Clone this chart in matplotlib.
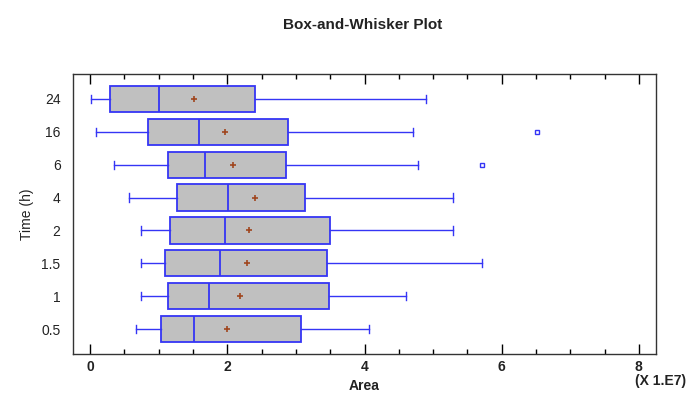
import matplotlib
matplotlib.use("Agg")
import matplotlib.pyplot as plt
from matplotlib.ticker import MultipleLocator
import numpy as np

plt.rcParams['font.family'] = ['Liberation Sans', 'DejaVu Sans']

# Data (units of 1e7), bottom-to-top order
categories = ["0.5", "1", "1.5", "2", "4", "6", "16", "24"]
whislo = [0.67, 0.74, 0.74, 0.74, 0.57, 0.35, 0.087, 0.015]
q1 = [1.04, 1.13, 1.09, 1.17, 1.26, 1.13, 0.84, 0.29]
median = [1.51, 1.73, 1.90, 1.96, 2.01, 1.68, 1.58, 1.00]
mean = [2.00, 2.19, 2.29, 2.32, 2.40, 2.09, 1.97, 1.51]
q3 = [3.07, 3.48, 3.46, 3.50, 3.13, 2.86, 2.88, 2.41]
whishi = [4.07, 4.60, 5.71, 5.29, 5.29, 4.78, 4.71, 4.89]
fliers = [[], [], [], [], [], [5.71], [6.52], []]
xticks = [0, 2, 4, 6, 8]

blue = "#3535F5"
stats = []
for i, c in enumerate(categories):
    stats.append(dict(label=c, whislo=whislo[i], q1=q1[i], med=median[i],
                      mean=mean[i], q3=q3[i], whishi=whishi[i],
                      fliers=fliers[i]))

fig = plt.figure(figsize=(6.88, 3.93), dpi=100)
ax = fig.add_axes([73/688, 1-354/393, (656-73)/688, (354-74)/393])

ax.bxp(stats, positions=np.arange(len(categories)), vert=False, widths=0.8,
       patch_artist=True, showmeans=True, showfliers=True,
       boxprops=dict(facecolor="#C0C0C0", edgecolor=blue, linewidth=1.3),
       medianprops=dict(color=blue, linewidth=1.3),
       whiskerprops=dict(color=blue, linewidth=1.0),
       capprops=dict(color=blue, linewidth=1.0),
       capwidths=0.25,
       meanprops=dict(marker="+", markeredgecolor="#A0461E", markersize=4,
                      markeredgewidth=1.2),
       flierprops=dict(marker="s", markerfacecolor="none", markeredgecolor=blue,
                       markersize=3.5, markeredgewidth=1.0))

ax.set_xlim(-0.25, 8.25)
ax.set_ylim(-0.76, 7.76)
ax.set_yticks(np.arange(len(categories)))
ax.set_yticklabels(categories, fontsize=10, color="#222222")
ax.tick_params(axis='y', length=0, pad=9)

ax.set_xticks(xticks)
ax.set_xticklabels([str(t) for t in xticks], fontweight='bold', fontsize=10, color="#222222")
ax.xaxis.set_minor_locator(MultipleLocator(0.5))
ax.tick_params(axis='x', which='both', direction='in', top=True, bottom=True)
ax.tick_params(axis='x', which='major', length=7, width=1, pad=4)
ax.tick_params(axis='x', which='minor', length=3.5, width=1)

for s in ax.spines.values():
    s.set_color("#333333")
    s.set_linewidth(1.0)

ax.set_xlabel("Area", fontsize=10, fontweight='bold', labelpad=4, color="#222222")
ax.set_ylabel("Time (h)", fontsize=10, labelpad=5, color="#222222")
fig.text(688/688 - 0.003, 1-381/393, "(X 1.E7)", ha='right', va='center',
         fontsize=10, fontweight='bold', color="#222222")
fig.text(363/688, 1-25/393, "Box-and-Whisker Plot", ha='center', va='center',
         fontsize=11, fontweight='bold', color="#222222")

fig.savefig("out.png", dpi=100)
